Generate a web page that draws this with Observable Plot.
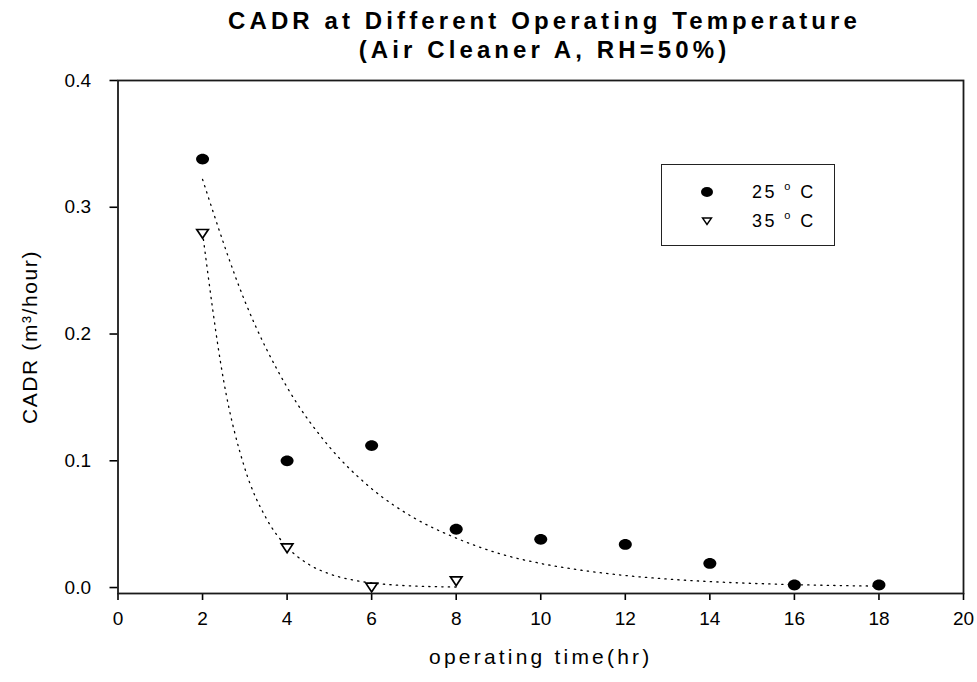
<!DOCTYPE html>
<html>
<head>
<meta charset="utf-8">
<script src="https://cdn.jsdelivr.net/npm/d3@7"></script>
<script src="https://cdn.jsdelivr.net/npm/@observablehq/plot@0.6"></script>
<style>
  body { margin: 0; background: #fff; font-family: "Liberation Sans", Arial, sans-serif; }
  #wrap { position: relative; width: 977px; height: 682px; overflow: hidden; }
  #title { box-sizing: border-box; width: 977px; height: 70px; padding-top: 6px; padding-left: 112px;
           text-align: center; font-family: "Liberation Sans", Arial, sans-serif;
           font-weight: bold; font-size: 24px; line-height: 29px; letter-spacing: 4.1px; color: #000; }
  #legend { position: absolute; left: 661px; top: 164px; width: 174px; height: 82px; box-sizing: border-box;
            border: 1px solid #222; background: #fff; }
  #legend .sym { position: absolute; left: 34px; width: 22px; height: 16px; }
  #legend .lab { position: absolute; left: 90px; font-size: 18px; line-height: 18px; color: #000; letter-spacing: 2.4px; white-space: nowrap; }
  #legend .deg { font-size: 11px; position: relative; top: -8px; }
</style>
</head>
<body>
<div id="wrap">
  <div id="title">CADR at Different Operating Temperature<br>(Air Cleaner A, RH=50%)</div>
  <div id="chart"></div>
  <div id="legend"></div>
</div>
<script>
// ---- data ----
const seriesNames = ["25 \u00B0C", "35 \u00B0C"];
const time25 = [2, 4, 6, 8, 10, 12, 14, 16, 18];
const cadr25 = [0.338, 0.100, 0.112, 0.046, 0.038, 0.034, 0.019, 0.002, 0.002];
const time35 = [2, 4, 6, 8];
const cadr35 = [0.279, 0.031, 0.000, 0.005];
// fitted (dotted) curves
const fitTime25 = [2, 3, 4, 5, 6, 7, 8, 9, 10, 11, 12, 13, 14, 15, 16, 17, 18];
const fitCadr25 = [0.322, 0.226, 0.158, 0.111, 0.078, 0.055, 0.039, 0.027, 0.019, 0.0135, 0.0095, 0.0067, 0.0047, 0.0033, 0.0023, 0.0016, 0.0011];
const fitTime35 = [2, 2.5, 3, 3.5, 4, 4.5, 5, 5.5, 6, 6.5, 7, 7.5, 8];
const fitCadr35 = [0.280, 0.163, 0.094, 0.055, 0.032, 0.0185, 0.0108, 0.0063, 0.0036, 0.0021, 0.0012, 0.0007, 0.0004];
const xTicks = [0, 2, 4, 6, 8, 10, 12, 14, 16, 18, 20];
const yTicks = [0.0, 0.1, 0.2, 0.3, 0.4];
const xLabel = "operating time(hr)";
const yLabel = "CADR (m\u00B3/hour)";

const d25 = time25.map((t, i) => ({t, v: cadr25[i]}));
const d35 = time35.map((t, i) => ({t, v: cadr35[i]}));
const f25 = fitTime25.map((t, i) => ({t, v: fitCadr25[i]}));
const f35 = fitTime35.map((t, i) => ({t, v: fitCadr35[i]}));

// symbols
const ellipseSym = {draw(ctx) {
  const rx = 6.5, ry = 5.4, k = 0.5523;
  ctx.moveTo(rx, 0);
  ctx.bezierCurveTo(rx, ry * k, rx * k, ry, 0, ry);
  ctx.bezierCurveTo(-rx * k, ry, -rx, ry * k, -rx, 0);
  ctx.bezierCurveTo(-rx, -ry * k, -rx * k, -ry, 0, -ry);
  ctx.bezierCurveTo(rx * k, -ry, rx, -ry * k, rx, 0);
  ctx.closePath();
}};
const triDownSym = {draw(ctx) {
  const w = 5.8, h = 4.4;
  ctx.moveTo(-w, -h); ctx.lineTo(w, -h); ctx.lineTo(0, h); ctx.closePath();
}};

const FONT = '"Liberation Sans", Arial, sans-serif';
const chart = Plot.plot({
  width: 977, height: 612,
  marginTop: 10, marginLeft: 117.5, marginRight: 14, marginBottom: 89,
  style: {fontFamily: FONT, fontSize: "19px", color: "#000", background: "#fff", overflow: "visible"},
  x: {domain: [0, 20], ticks: xTicks, tickSize: 7, tickPadding: 11, tickFormat: d => String(d), label: null},
  y: {domain: [-0.0047, 0.4], ticks: yTicks, tickSize: 8, tickPadding: 19, tickFormat: d3.format(".1f"), label: null},
  marks: [
    Plot.line(f25, {x: "t", y: "v", stroke: "#000", strokeWidth: 1.3, strokeDasharray: "1.3,5.2", curve: "monotone-x"}),
    Plot.line(f35, {x: "t", y: "v", stroke: "#000", strokeWidth: 1.3, strokeDasharray: "1.3,5.2", curve: "monotone-x"}),
    Plot.dot(d25, {x: "t", y: "v", symbol: ellipseSym, fill: "#000", stroke: "none"}),
    Plot.dot(d35, {x: "t", y: "v", symbol: triDownSym, fill: "#fff", stroke: "#000", strokeWidth: 1.7}),
    Plot.frame({stroke: "#1a1a1a", strokeWidth: 1.8}),
    Plot.text([xLabel], {frameAnchor: "bottom", dy: 70, text: d => d, fontSize: 21, fill: "#000"}),
    Plot.text([yLabel], {frameAnchor: "left", dx: -88, rotate: -90, textAnchor: "middle", text: d => d, fontSize: 21, fill: "#000"})
  ]
});
document.getElementById("chart").appendChild(chart);
d3.select(chart).selectAll("text").filter(function() { return this.textContent === xLabel; })
  .style("letter-spacing", "3.2px");
d3.select(chart).selectAll("text").filter(function() { return this.textContent === yLabel; })
  .style("letter-spacing", "1.6px");
d3.select(chart).selectAll("g[aria-label='x-axis tick'] path, g[aria-label='y-axis tick'] path")
  .attr("stroke-width", 1.6);

// legend (HTML overlay)
const legend = document.getElementById("legend");
const rows = [
  {top: 19, svg: '<svg width="22" height="16"><ellipse cx="11" cy="8" rx="6" ry="5" fill="#000"/></svg>'},
  {top: 48, svg: '<svg width="22" height="16"><path d="M6.5,5 L15.5,5 L11,11.5 Z" fill="#fff" stroke="#000" stroke-width="1.4"/></svg>'}
];
seriesNames.forEach((name, i) => {
  const r = rows[i];
  const sym = document.createElement("div");
  sym.className = "sym"; sym.style.top = r.top + "px"; sym.innerHTML = r.svg;
  legend.appendChild(sym);
  const lab = document.createElement("div");
  lab.className = "lab"; lab.style.top = (r.top - 1) + "px";
  const parts = name.split(" \u00B0");
  lab.innerHTML = parts[0] + ' <span class="deg">o</span> ' + parts[1];
  legend.appendChild(lab);
});
</script>
</body>
</html>
